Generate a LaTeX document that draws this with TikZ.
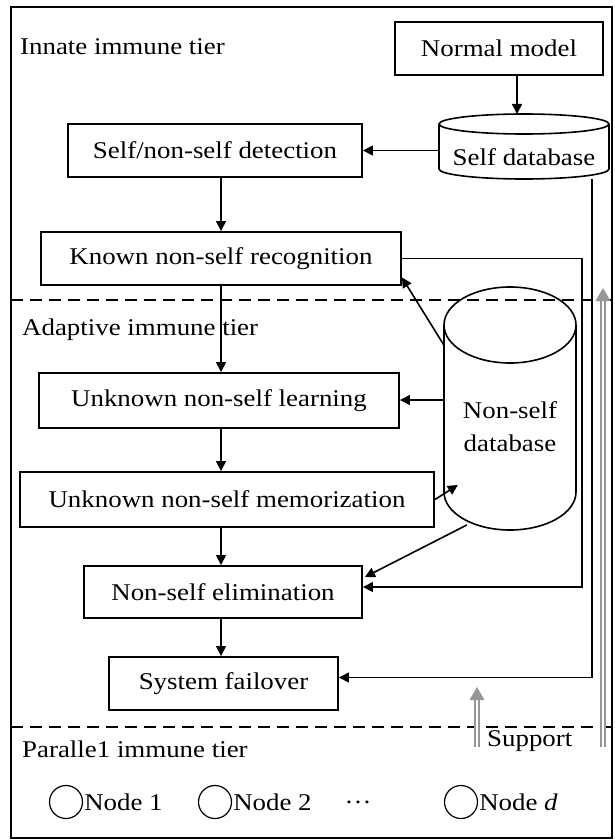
\documentclass[tikz,border=0pt]{standalone}
\usepackage{fontspec}
\setmainfont{Liberation Serif}[FakeStretch=1.12]
\usetikzlibrary{arrows.meta,calc}
\newcommand\diagfont{\fontsize{24}{33}\selectfont}
\definecolor{supgray}{RGB}{150,150,150}
\begin{document}
\begin{tikzpicture}[x=1pt,y=-1pt,
  box/.style={draw, line width=1.9pt, inner sep=0pt, font=\diagfont},
  dbshape/.style={line width=1.6pt},
  arr/.style={line width=1.6pt, -{Triangle[length=10pt,width=10pt]}},
  tierline/.style={line width=1.7pt, dash pattern=on 12pt off 7pt},
  tiertext/.style={font=\diagfont, anchor=base west, inner sep=0pt},
  shaft/.style={draw=supgray, line width=1.3pt, double=white, double distance=2.6pt},
  pnode/.style={circle, draw, line width=1.2pt, minimum size=33pt, inner sep=0pt}
]
\useasboundingbox (0,0) rectangle (614,840);
% frame
\draw[line width=2pt] (11,7) rectangle (612,838);
% tier separators
\draw[tierline] (11,300) -- (612,300);
\draw[tierline] (11,727) -- (612,727);
% tier labels
\node[tiertext] (tinnate) at (20,55) {Innate immune tier};
\node[tiertext] (tadapt) at (22,335) {Adaptive immune tier};
\node[tiertext] (tpar) at (22,757) {Paralle1 immune tier};

% boxes
\node[box, minimum width=208pt, minimum height=53pt] (normal) at (499,48.5) {Normal model};
\node[box, minimum width=294pt, minimum height=53pt] (selfnon) at (215,150.5) {Self/non-self detection};
\node[box, minimum width=360pt, minimum height=53pt] (known) at (221,258.5) {Known non-self recognition};
\node[box, minimum width=360pt, minimum height=55pt] (learn) at (219,400.5) {Unknown non-self learning};
\node[box, minimum width=414pt, minimum height=55pt] (memo) at (227,499.5) {Unknown non-self memorization};
\node[box, minimum width=278pt, minimum height=52pt] (elim) at (223,592) {Non-self elimination};
\node[box, minimum width=229pt, minimum height=53pt] (fail) at (223.5,683.5) {System failover};

% self database cylinder
\node[inner sep=0pt, minimum width=168pt, minimum height=44pt, font=\diagfont] (selfdb) at (524,157) {Self database};
\draw[dbshape] (524,124) ellipse [x radius=85, y radius=10];
\draw[dbshape] (439,124) -- (439,169) arc[start angle=180, end angle=0, x radius=85, y radius=10] -- (609,124);

% non-self database cylinder
\node[inner sep=0pt, minimum width=132pt, minimum height=200pt, align=center, font=\diagfont] (nonself) at (510,426.5) {Non-self\\database};
\draw[dbshape] (510,325) ellipse [x radius=66, y radius=38];
\draw[dbshape] (444,325) -- (444,492) arc[start angle=180, end angle=0, x radius=66, y radius=38] -- (576,325);

% helper coordinates
\coordinate (col) at (221,0);
\coordinate (nx) at (517,0);
\coordinate (sdx) at (592,0);

% main column
\draw[arr] (selfnon.south -| col) -- (known.north -| col);
\draw[arr] (known.south -| col) -- (learn.north -| col);
\draw[arr] (learn.south -| col) -- (memo.north -| col);
\draw[arr] (memo.south -| col) -- (elim.north -| col);
\draw[arr] (elim.south -| col) -- (fail.north -| col);

% normal model to self database
\draw[arr] (normal.south -| nx) -- (nx |- 0,114);
% self database to detection
\draw[arr] (selfdb.west |- selfnon.east) -- (selfnon.east);
% self database down to failover
\draw[arr] (sdx |- 0,179) |- ($(fail.east)+(0,-6)$);
% known recognition loop to elimination
\draw[arr] (known.east) -- ++(180,0) |- ($(elim.east)+(0,-5)$);
% non-self database links
\draw[arr] ($(nonself.west)+(0,-81.5)$) -- ($(known.east)+(0,19)$);
\draw[arr] ($(nonself.west)+(0,-26.5)$) -- (learn.east |- 0,400);
\draw[arr] (memo.east) -- ($(nonself.west)+(14,58.5)$);
\draw[arr] ($(nonself.west)+(23,98.5)$) -- ($(elim.east)+(2,-15)$);

% support arrows
\coordinate (s1b) at (477,747);
\coordinate (s1t) at (477,687);
\coordinate (s2b) at (603,747);
\coordinate (s2t) at (603,288);
\draw[shaft] (s1b) -- ($(s1t)+(0,12)$);
\fill[supgray] (s1t) -- ++(-7.5,13) -- ++(15,0) -- cycle;
\draw[shaft] (s2b) -- ($(s2t)+(0,12)$);
\fill[supgray] (s2t) -- ++(-7.5,13) -- ++(15,0) -- cycle;
\node[tiertext] (support) at (487,746) {Support};

% parallel nodes
\node[pnode] (c1) at (66,802) {};
\node[pnode] (c2) at (215,802) {};
\node[pnode] (c3) at (461,802) {};
\node[font=\diagfont, anchor=west, inner sep=1pt] (n1) at (c1.east) {Node 1};
\node[font=\diagfont, anchor=west, inner sep=1pt] (n2) at (c2.east) {Node 2};
\node[font=\diagfont, anchor=west, inner sep=1pt] (n3) at (c3.east) {Node \textit{d}};
\node[font=\diagfont, inner sep=0pt] (dots) at (358,802) {\dots};
\end{tikzpicture}
\end{document}
